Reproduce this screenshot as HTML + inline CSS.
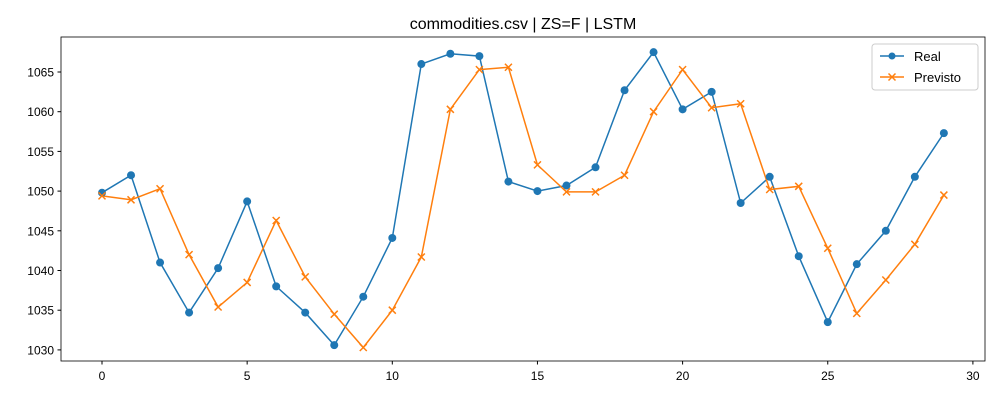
<!DOCTYPE html>
<html><head><meta charset="utf-8"><style>
body{margin:0;background:#fff;}
svg{display:block;font-family:"Liberation Sans","DejaVu Sans",sans-serif;}
</style></head><body>
<svg id="chart" width="1000" height="400">
<rect x="0" y="0" width="1000" height="400" fill="#fff"/>
<text x="523" y="29" text-anchor="middle" font-size="16">commodities.csv | ZS=F | LSTM</text>
<g id="grid"></g>
<g id="series"></g>
<rect x="61" y="37" width="924" height="324" fill="none" stroke="#000" stroke-width="0.8"/>
<g id="legend">
<rect x="872" y="44" width="106" height="46" rx="3" fill="#fff" stroke="#ccc"/>
<line x1="880" y1="56" x2="904" y2="56" stroke="#1f77b4" stroke-width="1.5"/>
<circle cx="892" cy="56" r="3.5" fill="#1f77b4"/>
<text x="914" y="61" font-size="13">Real</text>
<line x1="880" y1="77" x2="904" y2="77" stroke="#ff7f0e" stroke-width="1.5"/>
<path d="M888.5,73.5L895.5,80.5M888.5,80.5L895.5,73.5" stroke="#ff7f0e" stroke-width="1.5"/>
<text x="914" y="82" font-size="13">Previsto</text>
</g>
</svg>
<script>
const xTicks=[0,5,10,15,20,25,30];
const yTicks=[1030,1035,1040,1045,1050,1055,1060,1065];
const realValues=[1049.8,1052.0,1041.0,1034.7,1040.3,1048.7,1038.0,1034.7,1030.6,1036.7,1044.1,1066.0,1067.3,1067.0,1051.2,1050.0,1050.7,1053.0,1062.7,1067.5,1060.3,1062.5,1048.5,1051.8,1041.8,1033.5,1040.8,1045.0,1051.8,1057.3];
const predValues=[1049.4,1048.9,1050.3,1042.0,1035.4,1038.5,1046.3,1039.2,1034.5,1030.3,1035.0,1041.7,1060.3,1065.3,1065.6,1053.3,1049.9,1049.9,1052.0,1060.0,1065.3,1060.5,1061.0,1050.2,1050.6,1042.8,1034.6,1038.8,1043.3,1049.5];
const NS="http://www.w3.org/2000/svg";
const xs=v=>102+v*29.03;
const ys=v=>72+(1065-v)*7.94;
function mk(t,a,p){const e=document.createElementNS(NS,t);for(const k in a)e.setAttribute(k,a[k]);p.appendChild(e);return e;}
const g=document.getElementById('grid'),s=document.getElementById('series');
xTicks.forEach(t=>{const x=xs(t);
const l=mk('line',{x1:x,x2:x,y1:361,y2:364.5,stroke:'#000'},g);


const tx=mk('text',{x:x,y:380,'font-size':12,'text-anchor':'middle'},g);tx.textContent=t;

});
yTicks.forEach(t=>{const y=ys(t);
const l=mk('line',{x1:57.5,x2:61,y1:y,y2:y,stroke:'#000'},g);


const tx=mk('text',{x:54,y:y+4.5,'font-size':12,'text-anchor':'end'},g);tx.textContent=t;

});
function line(vals,color,name){
const p=mk('polyline',{points:vals.map((v,i)=>xs(i)+','+ys(v)).join(' '),fill:'none',stroke:color,'stroke-width':1.5},s);

}
line(realValues,'#1f77b4','real');
line(predValues,'#ff7f0e','previsto');
realValues.forEach((v,i)=>{const c=mk('circle',{cx:xs(i),cy:ys(v),r:4,fill:'#1f77b4'},s);

});
predValues.forEach((v,i)=>{const x=xs(i),y=ys(v);
const p=mk('path',{d:`M${x-3.5},${y-3.5}L${x+3.5},${y+3.5}M${x-3.5},${y+3.5}L${x+3.5},${y-3.5}`,stroke:'#ff7f0e','stroke-width':1.5},s);

});
</script>
</body></html>
